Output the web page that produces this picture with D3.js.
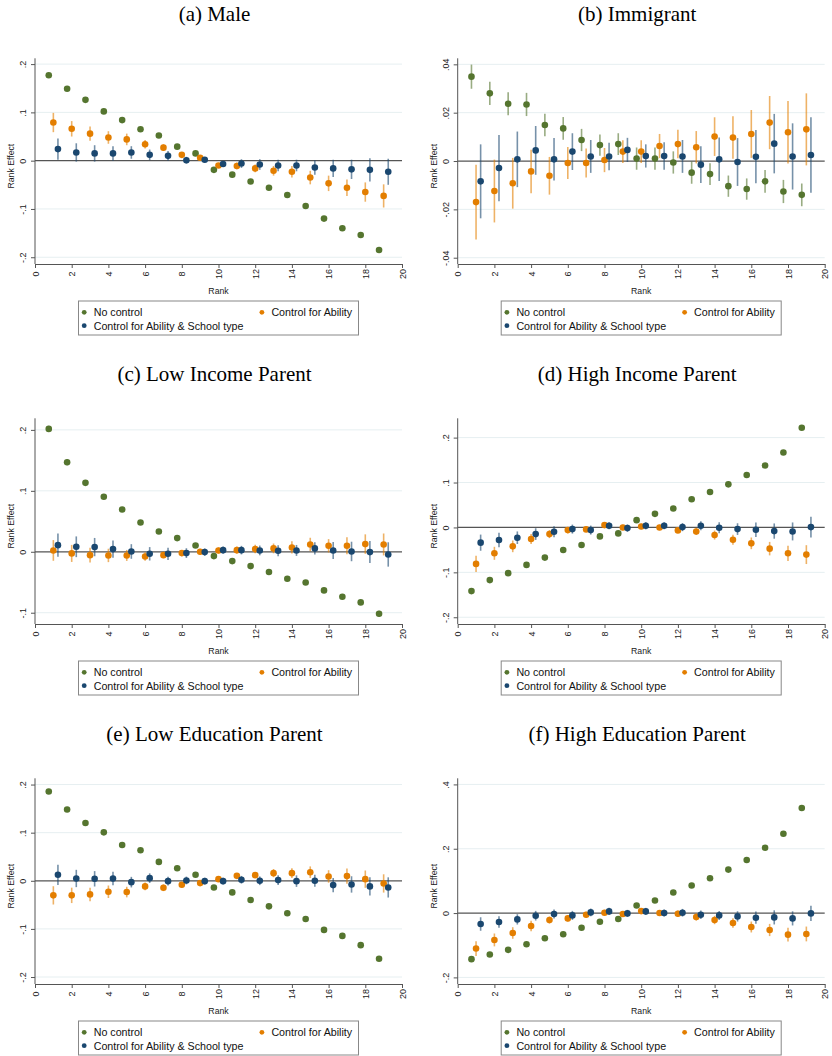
<!DOCTYPE html>
<html>
<head>
<meta charset="utf-8">
<script src="https://cdn.jsdelivr.net/npm/d3@7"></script>
<style>
  html, body { margin: 0; padding: 0; background: #fff; }
  svg { display: block; }
</style>
</head>
<body>
<svg id="chart" width="832" height="1056"></svg>
<script>
// Rank bins (1 = lowest rank group ... 19)
const ranks = [1,2,3,4,5,6,7,8,9,10,11,12,13,14,15,16,17,18,19];

const seriesNames = ["No control", "Control for Ability", "Control for Ability & School type"];
const seriesColors = ["#55752f", "#e37e00", "#1a476f"];

const panelTitles = ["(a) Male", "(b) Immigrant", "(c) Low Income Parent",
                     "(d) High Income Parent", "(e) Low Education Parent", "(f) High Education Parent"];

const xTicks = [0,2,4,6,8,10,12,14,16,18,20];

// (a) Male
const maleNone      = [0.177,0.149,0.126,0.102,0.084,0.065,0.052,0.029,0.015,-0.019,-0.029,-0.043,-0.056,-0.071,-0.094,-0.120,-0.140,-0.154,-0.185];
const maleNoneCI    = [0.002,0.002,0.002,0.002,0.002,0.002,0.002,0.002,0.002,0.002,0.002,0.002,0.002,0.002,0.002,0.002,0.002,0.002,0.002];
const maleAbility   = [0.079,0.066,0.056,0.048,0.044,0.034,0.027,0.012,0.006,-0.010,-0.011,-0.016,-0.021,-0.023,-0.035,-0.047,-0.056,-0.065,-0.073];
const maleAbilityCI = [0.020,0.016,0.015,0.013,0.012,0.009,0.007,0.005,0.004,0.004,0.007,0.008,0.010,0.012,0.014,0.016,0.017,0.020,0.024];
const maleSchool    = [0.024,0.017,0.015,0.015,0.017,0.012,0.010,0.001,0.002,-0.007,-0.006,-0.008,-0.010,-0.010,-0.014,-0.016,-0.018,-0.019,-0.023];
const maleSchoolCI  = [0.022,0.019,0.017,0.015,0.013,0.011,0.010,0.007,0.005,0.005,0.009,0.011,0.012,0.012,0.015,0.018,0.020,0.024,0.027];
const maleYTicks    = [-0.2,-0.1,0,0.1,0.2];

// (b) Immigrant
const immNone      = [0.0349,0.0280,0.0237,0.0234,0.0149,0.0135,0.0087,0.0066,0.0070,0.0010,0.0010,-0.0006,-0.0048,-0.0054,-0.0104,-0.0116,-0.0084,-0.0126,-0.0140];
const immNoneCI    = [0.0050,0.0048,0.0048,0.0048,0.0047,0.0047,0.0046,0.0044,0.0045,0.0046,0.0046,0.0046,0.0046,0.0045,0.0044,0.0044,0.0047,0.0048,0.0047];
const immAbility   = [-0.0170,-0.0124,-0.0092,-0.0043,-0.0061,-0.0008,-0.0008,0.0004,0.0039,0.0039,0.0062,0.0070,0.0057,0.0101,0.0097,0.0112,0.0159,0.0119,0.0131];
const immAbilityCI = [0.0155,0.0130,0.0105,0.0090,0.0078,0.0066,0.0060,0.0050,0.0047,0.0047,0.0050,0.0059,0.0067,0.0080,0.0088,0.0099,0.0110,0.0129,0.0149];
const immSchool    = [-0.0084,-0.0029,0.0007,0.0044,0.0007,0.0039,0.0019,0.0019,0.0046,0.0021,0.0021,0.0019,-0.0015,0.0007,-0.0004,0.0018,0.0072,0.0019,0.0025];
const immSchoolCI  = [0.0153,0.0137,0.0115,0.0101,0.0088,0.0076,0.0068,0.0057,0.0050,0.0048,0.0057,0.0068,0.0076,0.0090,0.0099,0.0110,0.0123,0.0137,0.0156];
const immYTicks    = [-0.04,-0.02,0,0.02,0.04];

// (c) Low income parent
const lowIncNone      = [0.2016,0.1470,0.1131,0.0902,0.0694,0.0481,0.0333,0.0224,0.0104,-0.0071,-0.0153,-0.0235,-0.0333,-0.0443,-0.0503,-0.0634,-0.0738,-0.0831,-0.1016];
const lowIncNoneCI    = [0.005,0.005,0.004,0.004,0.004,0.004,0.004,0.004,0.004,0.004,0.004,0.004,0.004,0.004,0.004,0.004,0.004,0.004,0.005];
const lowIncAbility   = [0.0022,-0.0027,-0.0055,-0.0060,-0.0060,-0.0077,-0.0055,-0.0022,0.0000,0.0022,0.0027,0.0044,0.0055,0.0071,0.0120,0.0098,0.0098,0.0126,0.0120];
const lowIncAbilityCI = [0.017,0.014,0.012,0.011,0.009,0.007,0.005,0.005,0.005,0.005,0.006,0.007,0.008,0.010,0.011,0.011,0.014,0.016,0.018];
const lowIncSchool    = [0.0109,0.0082,0.0077,0.0044,0.0005,-0.0033,-0.0033,-0.0022,-0.0005,0.0027,0.0027,0.0022,0.0016,0.0022,0.0055,0.0022,0.0005,-0.0005,-0.0044];
const lowIncSchoolCI  = [0.019,0.017,0.015,0.014,0.012,0.011,0.010,0.008,0.006,0.006,0.007,0.008,0.009,0.009,0.010,0.014,0.016,0.018,0.020];
const lowIncYTicks    = [-0.1,0,0.1,0.2];

// (d) High income parent
const highIncNone      = [-0.1417,-0.1173,-0.1018,-0.0834,-0.0672,-0.0502,-0.0391,-0.0199,-0.0133,0.0162,0.0303,0.0421,0.0627,0.0790,0.0959,0.1166,0.1380,0.1668,0.2221];
const highIncNoneCI    = [0.003,0.003,0.003,0.003,0.003,0.003,0.003,0.003,0.003,0.003,0.003,0.003,0.003,0.003,0.003,0.003,0.003,0.003,0.003];
const highIncAbility   = [-0.0812,-0.0576,-0.0421,-0.0258,-0.0148,-0.0059,-0.0044,0.0052,0.0000,0.0022,0.0000,-0.0066,-0.0089,-0.0170,-0.0273,-0.0354,-0.0472,-0.0576,-0.0605];
const highIncAbilityCI = [0.018,0.0145,0.013,0.011,0.009,0.007,0.006,0.006,0.006,0.006,0.006,0.006,0.008,0.010,0.011,0.013,0.015,0.017,0.021];
const highIncSchool    = [-0.0339,-0.0280,-0.0229,-0.0148,-0.0096,-0.0037,-0.0059,0.0037,-0.0015,0.0037,0.0037,0.0007,0.0037,-0.0007,-0.0037,-0.0052,-0.0081,-0.0089,0.0007];
const highIncSchoolCI  = [0.018,0.016,0.014,0.013,0.012,0.010,0.010,0.008,0.008,0.008,0.008,0.009,0.010,0.012,0.013,0.016,0.017,0.020,0.023];
const highIncYTicks    = [-0.2,-0.1,0,0.1,0.2];

// (e) Low education parent
const lowEduNone      = [0.1855,0.1483,0.1200,0.1007,0.0745,0.0634,0.0393,0.0262,0.0124,-0.0138,-0.0241,-0.0400,-0.0531,-0.0676,-0.0793,-0.1021,-0.1145,-0.1338,-0.1621];
const lowEduNoneCI    = [0.003,0.003,0.003,0.003,0.003,0.003,0.003,0.003,0.003,0.003,0.003,0.003,0.003,0.003,0.003,0.003,0.003,0.003,0.003];
const lowEduAbility   = [-0.0303,-0.0303,-0.0283,-0.0228,-0.0234,-0.0117,-0.0145,-0.0083,-0.0048,0.0034,0.0103,0.0117,0.0159,0.0159,0.0179,0.0090,0.0097,0.0034,-0.0055];
const lowEduAbilityCI = [0.019,0.016,0.014,0.013,0.011,0.008,0.007,0.006,0.005,0.005,0.005,0.006,0.0085,0.010,0.012,0.013,0.016,0.018,0.019];
const lowEduSchool    = [0.0124,0.0048,0.0041,0.0048,-0.0028,0.0055,-0.0007,0.0007,-0.0007,-0.0007,0.0021,0.0000,0.0014,-0.0007,0.0000,-0.0090,-0.0076,-0.0117,-0.0138];
const lowEduSchoolCI  = [0.021,0.018,0.016,0.014,0.011,0.010,0.009,0.008,0.007,0.007,0.008,0.009,0.010,0.012,0.0125,0.015,0.017,0.019,0.021];
const lowEduYTicks    = [-0.2,-0.1,0,0.1,0.2];

// (f) High education parent
const highEduNone      = [-0.1433,-0.1289,-0.1144,-0.0969,-0.0784,-0.0660,-0.0454,-0.0268,-0.0186,0.0237,0.0392,0.0639,0.0856,0.1082,0.1351,0.1649,0.2031,0.2464,0.3268];
const highEduNoneCI    = [0.004,0.004,0.004,0.004,0.004,0.004,0.004,0.004,0.004,0.004,0.004,0.004,0.004,0.004,0.004,0.004,0.004,0.004,0.004];
const highEduAbility   = [-0.1103,-0.0835,-0.0619,-0.0402,-0.0216,-0.0165,-0.0052,0.0010,-0.0031,0.0062,0.0000,-0.0021,-0.0124,-0.0216,-0.0309,-0.0433,-0.0526,-0.0670,-0.0649];
const highEduAbilityCI = [0.023,0.020,0.018,0.016,0.011,0.010,0.009,0.009,0.009,0.009,0.009,0.010,0.011,0.013,0.015,0.017,0.019,0.021,0.023];
const highEduSchool    = [-0.0340,-0.0278,-0.0196,-0.0082,-0.0031,-0.0072,0.0021,0.0052,-0.0010,0.0052,0.0000,0.0010,-0.0052,-0.0072,-0.0103,-0.0144,-0.0134,-0.0165,-0.0010];
const highEduSchoolCI  = [0.021,0.018,0.016,0.015,0.014,0.014,0.012,0.011,0.011,0.011,0.011,0.012,0.013,0.014,0.016,0.019,0.022,0.022,0.024];
const highEduYTicks    = [-0.2,0,0.2,0.4];

// Panel assembly: each panel = three estimate series with CI half-widths
const panels = [
  { est: [maleNone, maleAbility, maleSchool],       ci: [maleNoneCI, maleAbilityCI, maleSchoolCI],       ticks: maleYTicks,    yDomain: [-0.214, 0.212] },
  { est: [immNone, immAbility, immSchool],          ci: [immNoneCI, immAbilityCI, immSchoolCI],          ticks: immYTicks,     yDomain: [-0.0426, 0.0425] },
  { est: [lowIncNone, lowIncAbility, lowIncSchool], ci: [lowIncNoneCI, lowIncAbilityCI, lowIncSchoolCI], ticks: lowIncYTicks,  yDomain: [-0.1185, 0.219] },
  { est: [highIncNone, highIncAbility, highIncSchool], ci: [highIncNoneCI, highIncAbilityCI, highIncSchoolCI], ticks: highIncYTicks, yDomain: [-0.215, 0.243] },
  { est: [lowEduNone, lowEduAbility, lowEduSchool], ci: [lowEduNoneCI, lowEduAbilityCI, lowEduSchoolCI], ticks: lowEduYTicks,  yDomain: [-0.2145, 0.213] },
  { est: [highEduNone, highEduAbility, highEduSchool], ci: [highEduNoneCI, highEduAbilityCI, highEduSchoolCI], ticks: highEduYTicks, yDomain: [-0.2205, 0.419] }
];

// Horizontal dodge of the three series around each rank
const dodge = [-0.25, 0, 0.25];

const svg = d3.select("#chart");
const sans = "'Liberation Sans', Arial, Helvetica, sans-serif";
const serif = "'Liberation Serif', 'Times New Roman', serif";

// Stata-style tick labels: ".2", "-.1", "0"
const fmt = v => {
  if (v === 0) return "0";
  const s = String(+v.toFixed(3));
  return s.replace(/^(-?)0\./, "$1.");
};

const colLeft = [35, 457.7];
const plotW = 367;
const rowTop = [0, 360, 720];

panels.forEach((p, i) => {
  const col = i % 2, row = Math.floor(i / 2);
  const x0 = colLeft[col], x1 = x0 + plotW;
  const y0 = rowTop[row] + 58.3, y1 = rowTop[row] + 264;
  const titleCenter = (x0 + x1) / 2 - 4;

  const x = d3.scaleLinear().domain([0, 20]).range([x0, x1]);
  const y = d3.scaleLinear().domain(p.yDomain).range([y1, y0]);

  const g = svg.append("g");

  // Panel title
  g.append("text")
    .attr("x", titleCenter).attr("y", rowTop[row] + 21)
    .attr("text-anchor", "middle")
    .attr("font-family", serif).attr("font-size", 21)
    .attr("fill", "#000")
    .text(panelTitles[i]);

  // Gridlines
  g.append("g").selectAll("line").data(p.ticks.filter(t => t !== 0)).join("line")
    .attr("x1", x0).attr("x2", x1)
    .attr("y1", d => y(d)).attr("y2", d => y(d))
    .attr("stroke", "#e6eff1").attr("stroke-width", 1);

  // Reference line at zero
  g.append("line")
    .attr("x1", x0).attr("x2", x1).attr("y1", y(0)).attr("y2", y(0))
    .attr("stroke", "#555").attr("stroke-width", 1.2);

  // Y axis
  const yAxis = d3.axisLeft(y).tickValues(p.ticks).tickFormat(fmt).tickSize(4).tickSizeOuter(0);
  const ya = g.append("g").attr("transform", `translate(${x0},0)`).call(yAxis);
  ya.select(".domain").attr("stroke", "#555").attr("d", `M-0,${y0}V${y1}`);
  ya.selectAll(".tick line").attr("stroke", "#555");
  ya.selectAll(".tick text")
    .attr("font-family", sans).attr("font-size", 9).attr("fill", "#222")
    .attr("x", null).attr("dy", null)
    .attr("text-anchor", "middle")
    .attr("dominant-baseline", "central")
    .attr("transform", "translate(-12,0) rotate(-90)");

  // X axis
  const xAxis = d3.axisBottom(x).tickValues(xTicks).tickFormat(d3.format("d")).tickSize(4).tickSizeOuter(0);
  const xa = g.append("g").attr("transform", `translate(0,${y1})`).call(xAxis);
  xa.select(".domain").attr("stroke", "#555");
  xa.selectAll(".tick line").attr("stroke", "#555");
  xa.selectAll(".tick text")
    .attr("font-family", sans).attr("font-size", 9).attr("fill", "#222")
    .attr("y", null).attr("dy", null)
    .attr("text-anchor", "middle")
    .attr("dominant-baseline", "central")
    .attr("transform", "translate(0,10) rotate(-90)");

  // Axis titles
  g.append("text")
    .attr("transform", `translate(${x0 - 21},${(y0 + y1) / 2 + 5}) rotate(-90)`)
    .attr("text-anchor", "middle")
    .attr("font-family", sans).attr("font-size", 8.7).attr("fill", "#222")
    .text("Rank Effect");
  g.append("text")
    .attr("x", (x0 + x1) / 2).attr("y", rowTop[row] + 294)
    .attr("text-anchor", "middle")
    .attr("font-family", sans).attr("font-size", 8.7).attr("fill", "#222")
    .text("Rank");

  // Confidence intervals
  p.est.forEach((vals, s) => {
    const ci = p.ci[s];
    g.append("g").selectAll("line").data(ranks).join("line")
      .attr("x1", r => x(r + dodge[s])).attr("x2", r => x(r + dodge[s]))
      .attr("y1", (r, k) => y(vals[k] - ci[k])).attr("y2", (r, k) => y(vals[k] + ci[k]))
      .attr("stroke", seriesColors[s]).attr("stroke-opacity", 0.6).attr("stroke-width", 1.6);
  });

  // Point estimates
  p.est.forEach((vals, s) => {
    g.append("g").selectAll("circle").data(ranks).join("circle")
      .attr("cx", r => x(r + dodge[s]))
      .attr("cy", (r, k) => y(vals[k]))
      .attr("r", 3.3)
      .attr("fill", seriesColors[s]);
  });

  // Legend
  const lx = x0 + 43.5, ly = rowTop[row] + 301;
  const lg = g.append("g").attr("transform", `translate(${lx},${ly})`);
  lg.append("rect").attr("width", 280).attr("height", 34)
    .attr("fill", "#fff").attr("stroke", "#888").attr("stroke-width", 1);
  const items = [
    { s: 0, mx: 5.7, ty: 11.3 },
    { s: 1, mx: 183.4, ty: 11.3 },
    { s: 2, mx: 5.7, ty: 24.7 }
  ];
  items.forEach(it => {
    lg.append("circle").attr("cx", it.mx).attr("cy", it.ty).attr("r", 2.4).attr("fill", seriesColors[it.s]);
    lg.append("text").attr("x", it.mx + 9.5).attr("y", it.ty)
      .attr("dominant-baseline", "central")
      .attr("font-family", sans).attr("font-size", 10.7).attr("fill", "#111")
      .text(seriesNames[it.s]);
  });
});
</script>
</body>
</html>
